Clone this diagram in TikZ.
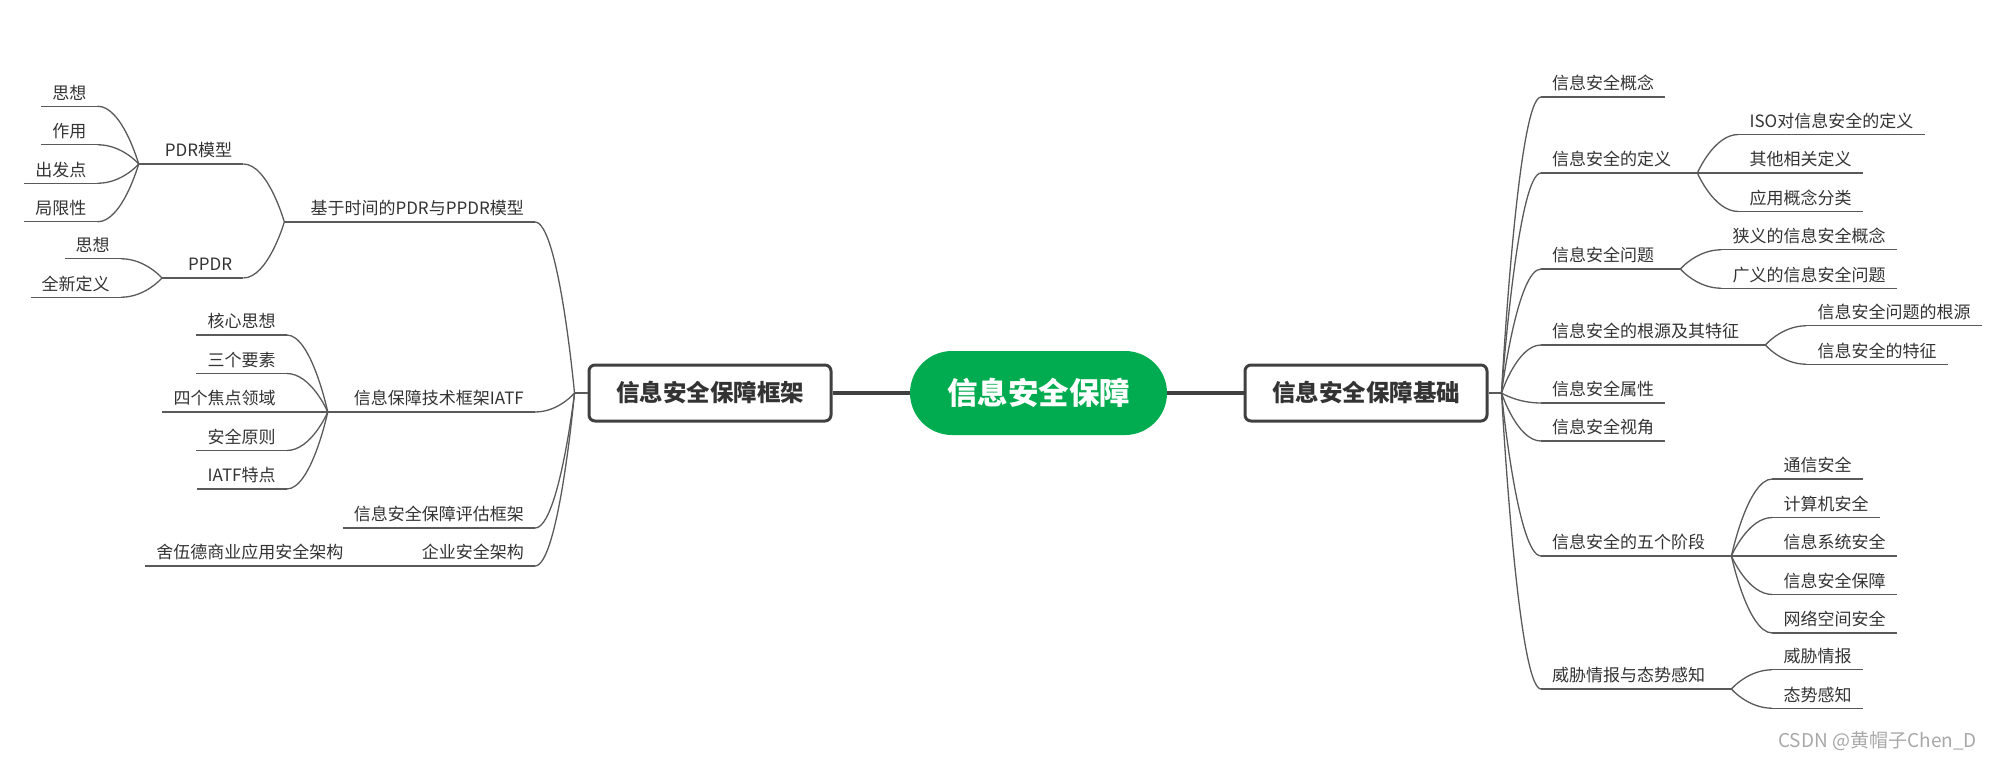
\documentclass[tikz,border=0pt]{standalone}
\usepackage{fontspec}
\setmainfont{Noto Sans CJK SC}
\usepackage{tikz}
\usetikzlibrary{calc,positioning}
\definecolor{rootgreen}{HTML}{00AC4F}
\definecolor{framegray}{HTML}{404040}
\definecolor{wiregray}{HTML}{5A5A5A}
\definecolor{inkgray}{HTML}{333333}
\definecolor{markgray}{HTML}{A8A8A8}
\tikzset{
  wire/.style={wiregray,line width=1.3pt},
  link/.style={to path={.. controls (\tikztostart) and ($(\tikztostart|-\tikztotarget)!0.4!(\tikztotarget)$) .. (\tikztotarget)}},
  topic/.style={inner xsep=11pt,inner ysep=4pt,text height=14pt,text depth=3pt,text=inkgray,
    font=\fontsize{17}{20}\selectfont,
    append after command={(\tikzlastnode.south west) edge[wire] (\tikzlastnode.south east)}},
  branchbox/.style={draw=framegray,line width=3pt,rounded corners=6pt,fill=white,minimum width=242pt,
    minimum height=56pt,text=inkgray,font=\fontsize{23.5}{28}\selectfont\bfseries},
  rootnode/.style={fill=rootgreen,rounded corners=42pt,minimum width=257pt,minimum height=84pt,
    text=white,font=\fontsize{30.5}{36}\selectfont\bfseries},
}

\begin{document}
\begin{tikzpicture}[x=1pt,y=-1pt]
  \useasboundingbox (0,0) rectangle (1992,760);
  \node[rootnode] (root) at (1038.5,393) {信息安全保障};
  \node[branchbox] (frame) at (710,393) {信息安全保障框架};
  \node[branchbox] (base) at (1366,393) {信息安全保障基础};
  \draw[framegray,line width=4pt] (root) -- (frame);
  \draw[framegray,line width=4pt] (root) -- (base);
  \coordinate (rj) at ([xshift=13pt]base.east);
  \coordinate (lj) at ([xshift=-13pt]frame.west);
  \draw[wire] (base.east) -- (rj);
  \draw[wire] (frame.west) -- (lj);

  % right branch
  \foreach \k/\yy/\txt in {r1/97/信息安全概念,r2/173/信息安全的定义,r3/269/信息安全问题,r4/345/信息安全的根源及其特征,
      r5/403/信息安全属性,r6/441/信息安全视角,r7/556/信息安全的五个阶段,r8/689/威胁情报与态势感知}{
    \node[topic,anchor=south west] (\k) at (1541,\yy) {\txt};
    \draw[wire] (rj) to[link] (\k.south west);}
  \foreach \k in {r2,r3,r4,r7,r8}{
    \coordinate (\k j) at ([xshift=15pt]\k.south east);
    \draw[wire] (\k.south east) -- (\k j);}
  \foreach \txt [count=\i] in {ISO对信息安全的定义,其他相关定义,应用概念分类}{
    \node[topic,anchor=south west] (r2-\i) at ($(r2j)+(41,{38.5*(\i-2)})$) {\txt};
    \draw[wire] (r2j) to[link] (r2-\i.south west);}
  \foreach \txt [count=\i] in {狭义的信息安全概念,广义的信息安全问题}{
    \node[topic,anchor=south west] (r3-\i) at ($(r3j)+(41,{38.5*(\i-1.5)})$) {\txt};
    \draw[wire] (r3j) to[link] (r3-\i.south west);}
  \foreach \txt [count=\i] in {信息安全问题的根源,信息安全的特征}{
    \node[topic,anchor=south west] (r4-\i) at ($(r4j)+(41,{38.5*(\i-1.5)})$) {\txt};
    \draw[wire] (r4j) to[link] (r4-\i.south west);}
  \foreach \txt [count=\i] in {通信安全,计算机安全,信息系统安全,信息安全保障,网络空间安全}{
    \node[topic,anchor=south west] (r7-\i) at ($(r7j)+(41,{38.5*(\i-3)})$) {\txt};
    \draw[wire] (r7j) to[link] (r7-\i.south west);}
  \foreach \txt [count=\i] in {威胁情报,态势感知}{
    \node[topic,anchor=south west] (r8-\i) at ($(r8j)+(41,{38.5*(\i-1.5)})$) {\txt};
    \draw[wire] (r8j) to[link] (r8-\i.south west);}

  % left branch
  \foreach \k/\yy/\txt in {l1/222/基于时间的PDR与PPDR模型,l2/412/信息保障技术框架IATF,
      l3/528/信息安全保障评估框架,l4/566/企业安全架构}{
    \node[topic,anchor=south east] (\k) at (535,\yy) {\txt};
    \draw[wire] (lj) to[link] (\k.south east);}
  \foreach \k in {l1,l2,l4}{
    \coordinate (\k j) at ([xshift=-15pt]\k.south west);
    \draw[wire] (\k.south west) -- (\k j);}
  \node[topic,anchor=south east] (l1a) at ($(l1j)+(-41,-58)$) {PDR模型};
  \node[topic,anchor=south east] (l1b) at ($(l1j)+(-41,56)$) {PPDR};
  \foreach \k in {l1a,l1b}{
    \draw[wire] (l1j) to[link] (\k.south east);
    \coordinate (\k j) at ([xshift=-15pt]\k.south west);
    \draw[wire] (\k.south west) -- (\k j);}
  \foreach \txt [count=\i] in {思想,作用,出发点,局限性}{
    \node[topic,anchor=south east] (l1a-\i) at ($(l1aj)+(-41,{38.5*(\i-2.5)})$) {\txt};
    \draw[wire] (l1aj) to[link] (l1a-\i.south east);}
  \foreach \txt [count=\i] in {思想,全新定义}{
    \node[topic,anchor=south east] (l1b-\i) at ($(l1bj)+(-41,{38.5*(\i-1.5)})$) {\txt};
    \draw[wire] (l1bj) to[link] (l1b-\i.south east);}
  \foreach \txt [count=\i] in {核心思想,三个要素,四个焦点领域,安全原则,IATF特点}{
    \node[topic,anchor=south east] (l2-\i) at ($(l2j)+(-41,{38.5*(\i-3)})$) {\txt};
    \draw[wire] (l2j) to[link] (l2-\i.south east);}
  \node[topic,anchor=south east] (l4-1) at ($(l4j)+(-41,0)$) {舍伍德商业应用安全架构};
  \draw[wire] (l4j) to[link] (l4-1.south east);

  \node[anchor=south east,inner sep=0pt,text=markgray,font=\fontsize{19}{22}\selectfont] (mark) at (1977,751) {CSDN @黄帽子Chen\_D};
\end{tikzpicture}
\end{document}
